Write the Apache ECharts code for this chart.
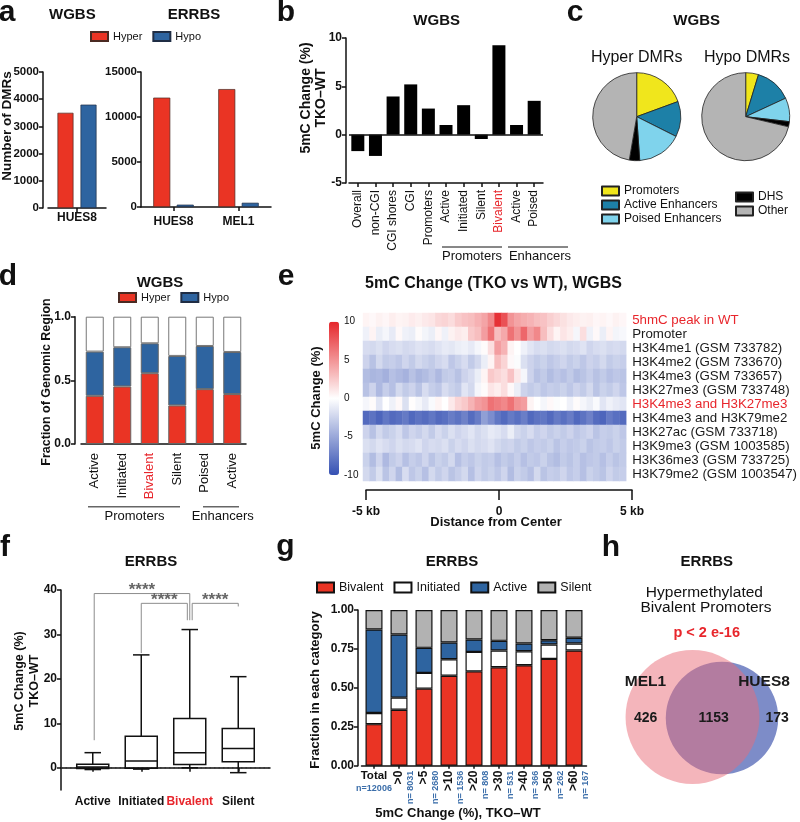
<!DOCTYPE html>
<html><head><meta charset="utf-8">
<script src="https://cdn.jsdelivr.net/npm/echarts@6/dist/echarts.min.js"></script>
<style>html,body{margin:0;padding:0;background:#fff}#c{width:800px;height:822px}</style>
</head><body><div id="c"></div>
<script>
// ---------------- DATA ----------------
// Panel a
const aWgbsCats = ['HUES8'];
const aWgbsHyper = [3500];
const aWgbsHypo = [3800];
const aErrbsCats = ['HUES8', 'MEL1'];
const aErrbsHyper = [12150, 13100];
const aErrbsHypo = [260, 470];
// Panel b
const bCats = ['Overall','non-CGI','CGI shores','CGI','Promoters','Active','Initiated','Silent','Bivalent','Active','Poised'];
const bValues = [-1.7,-2.2,3.95,5.2,2.7,1.0,3.05,-0.45,9.25,1.0,3.5];
// Panel c
const cNames = ['Promoters','Active Enhancers','Poised Enhancers','DHS','Other'];
const cHyper = [19.4,13.0,16.5,3.8,47.3];
const cHypo = [4.7,13.4,8.7,1.9,71.3];
// Panel d
const dCats = ['Active','Initiated','Bivalent','Silent','Poised','Active'];
const dHyper = [0.379,0.452,0.556,0.303,0.431,0.392];
const dHypo  = [0.347,0.308,0.235,0.389,0.339,0.331];
const dRest  = [0.274,0.240,0.209,0.308,0.230,0.277];
// Panel e
const heatRows = ['5hmC peak in WT','Promoter','H3K4me1 (GSM 733782)','H3K4me2 (GSM 733670)','H3K4me3 (GSM 733657)','H3K27me3 (GSM 733748)','H3K4me3 and H3K27me3','H3K4me3 and H3K79me2','H3K27ac (GSM 733718)','H3K9me3 (GSM 1003585)','H3K36me3 (GSM 733725)','H3K79me2 (GSM 1003547)'];
const heatRedRows = ['5hmC peak in WT','H3K4me3 and H3K27me3'];
const heatValues = [
 [0.5,0.3,0.6,0.4,0.8,0.5,0.6,0.9,0.7,1.0, 1.2,1.8,2.0,1.6,2.4,2.8,3.0,3.6,4.2,5.5, 9.5,8.0,5.0,4.2,3.8,3.5,3.0,2.8,2.2,1.8, 1.4,1.0,0.8,0.6,0.7,0.4,0.5,0.3,0.6,0.4],
 [-0.8,0.5,-1.0,-0.5,-1.2,0.3,-0.8,-1.0,0.2,-0.6, -1.0,0.4,-0.8,0.6,1.0,0.8,2.5,3.0,4.5,6.5, 3.0,4.0,6.5,5.0,7.0,4.5,5.5,3.0,1.5,0.5, 1.2,0.8,-0.5,1.5,-0.8,0.3,-1.0,0.5,-0.6,-0.4],
 [-2.0,-2.2,-1.8,-2.4,-2.0,-1.8,-2.2,-2.0,-1.6,-1.8, -2.0,-1.6,-1.2,-1.4,-1.0,-0.8,-1.2,-0.5,0.2,1.5, 4.5,3.5,0.5,0.0,-0.8,-1.5,-2.0,-1.8,-2.2,-2.0, -1.8,-2.2,-2.0,-1.6,-2.4,-2.0,-1.8,-2.2,-2.0,-2.2],
 [-2.5,-3.5,-2.2,-3.0,-2.8,-3.2,-2.4,-3.0,-2.2,-2.6, -3.0,-2.4,-2.0,-3.2,-2.6,-2.0,-3.0,-2.2,-1.0,0.5, 3.0,2.0,0.3,-0.2,-1.8,-2.5,-3.0,-2.6,-3.2,-2.8, -2.4,-3.0,-2.6,-3.2,-2.5,-2.8,-2.2,-3.0,-2.6,-2.8],
 [-3.8,-4.2,-4.0,-4.5,-3.6,-4.0,-4.4,-3.5,-4.2,-3.8, -3.2,-4.0,-3.0,-2.8,-3.5,-2.5,-2.0,-1.0,0.5,2.5, 2.0,1.5,2.8,1.0,-0.5,-2.5,-3.5,-3.0,-3.8,-3.2, -3.6,-3.0,-3.8,-3.4,-2.8,-3.5,-3.0,-3.6,-3.2,-3.4],
 [-3.5,-2.5,-4.0,-2.8,-3.6,-2.2,-3.0,-2.5,-3.4,-2.0, -2.8,-3.2,-2.0,-2.6,-3.0,-1.5,-2.2,-0.5,0.2,1.2, 0.8,1.5,0.3,-1.0,-2.5,-3.0,-2.6,-3.2,-2.8,-3.0, -2.6,-3.2,-2.5,-3.0,-2.2,-3.4,-2.6,-3.0,-2.4,-3.2],
 [-0.5,0.2,-1.5,0.0,-0.8,0.3,-1.8,0.1,-0.5,-1.2, -0.3,0.5,0.0,1.0,2.0,2.5,3.5,4.5,5.0,6.5, 6.0,5.5,6.5,5.0,4.5,0.5,0.0,-0.5,0.3,-0.2, 0.0,-0.8,0.2,-0.5,-1.0,-0.3,-1.5,-0.8,-1.2,-1.5],
 [-8.5,-8.0,-8.8,-7.8,-8.5,-8.2,-7.6,-8.6,-8.0,-8.4, -7.8,-8.5,-8.2,-7.5,-8.0,-7.2,-8.4,-7.5,-5.5,-6.5, -7.8,-8.5,-7.6,-8.2,-7.4,-8.6,-8.0,-7.8,-8.5,-7.6, -8.2,-7.5,-8.6,-8.0,-7.2,-8.4,-8.8,-7.6,-8.2,-8.5],
 [-2.5,-3.5,-2.2,-3.0,-2.6,-2.0,-3.2,-2.4,-2.8,-2.2, -3.0,-2.0,-2.6,-1.8,-2.4,-2.0,-1.5,-2.2,-1.8,-1.2, -1.5,-2.0,-1.0,-2.2,-2.6,-2.0,-2.8,-2.4,-3.0,-2.6, -3.0,-2.5,-3.2,-2.8,-2.4,-3.4,-2.8,-3.0,-2.6,-3.2],
 [-1.8,-2.2,-1.6,-2.0,-2.4,-1.8,-2.2,-2.0,-1.6,-2.4, -2.0,-2.2,-1.8,-2.6,-2.0,-2.4,-1.8,-2.2,-2.0,-1.6, -2.2,-2.6,-2.4,-3.0,-2.6,-3.2,-2.8,-3.0,-2.6,-3.4, -2.8,-3.2,-3.0,-2.6,-3.4,-3.0,-2.8,-3.2,-2.6,-3.0],
 [-2.6,-3.8,-2.4,-4.0,-3.0,-2.5,-3.6,-2.8,-3.2,-2.4, -3.4,-2.6,-3.0,-2.2,-3.6,-2.8,-3.2,-2.6,-3.0,-2.8, -3.6,-3.0,-3.4,-2.8,-3.6,-3.0,-3.2,-2.6,-3.4,-3.8, -3.0,-3.4,-2.8,-3.6,-3.2,-3.0,-3.6,-2.8,-3.4,-3.0],
 [-2.2,-3.0,-1.8,-3.4,-2.4,-3.8,-2.0,-3.2,-2.6,-3.6, -2.2,-3.0,-2.4,-3.4,-2.8,-2.2,-3.6,-2.4,-3.0,-2.6, -3.2,-2.4,-3.8,-2.6,-3.0,-3.6,-2.2,-3.4,-2.8,-3.0, -2.4,-3.2,-2.8,-3.6,-2.6,-3.0,-3.4,-2.4,-3.0,-2.8]
];
const heatTicks = [-5, 0, 5];
// Panel f  [min, Q1, median, Q3, max]
const fCats = ['Active','Initiated','Bivalent','Silent'];
const fBox = [[-0.4,-0.15,0.2,0.8,3.4],[-0.3,-0.1,1.5,7.1,25.4],[0.0,0.75,3.4,11.1,31.1],[-1.1,1.35,4.35,8.85,20.5]];
const fTicks = [0,10,20,30,40];
// significance brackets: [fromCat, toCat, barLevel, leftDrop, rightDrop, leftShift, rightShift]
const fSig = [[0,2,39.2,6.2,33.2,0.03,0],[1,2,37.0,25.8,33.2,0,-0.05],[2,3,37.0,33.2,36.3,0.05,0]];
// Panel g
const gCats = ['Total','>0','>5','>10','>20','>30','>40','>50','>60'];
const gN = ['n=12006','n= 8031','n= 2680','n= 1536','n= 808','n= 531','n= 366','n= 262','n= 167'];
const gBivalent  = [0.267,0.359,0.495,0.578,0.606,0.632,0.645,0.686,0.740];
const gInitiated = [0.071,0.078,0.101,0.106,0.125,0.108,0.090,0.092,0.045];
const gActive    = [0.537,0.406,0.161,0.107,0.080,0.062,0.050,0.028,0.037];
const gSilent    = [0.125,0.157,0.243,0.209,0.189,0.198,0.215,0.194,0.178];
// Panel h
const hSets = ['MEL1','HUES8'];
const hCounts = [426, 1153, 173]; // MEL1 only, both, HUES8 only

// ---------------- STYLE ----------------
const FONT = '"Liberation Sans", Arial, Helvetica, sans-serif';
const RED = '#ea3424', BLUE = '#2e64a0', LRED = '#e8262c', NBLUE = '#3b6eaa';
const AXL = {show:true, lineStyle:{color:'#111', width:1.5}};
const TICK = {show:true, length:4, alignWithLabel:true, lineStyle:{color:'#111', width:1.5}};
const VTICK = {show:true, length:4, lineStyle:{color:'#111', width:1.5}};
const bold = (s) => ({fontFamily:FONT, fontWeight:'bold', fontSize:s, color:'#111'});
const reg = (s) => ({fontFamily:FONT, fontWeight:'normal', fontSize:s, color:'#111'});
const redCat = (arr) => arr.map(v => v === 'Bivalent' ? {value:v, textStyle:{color:LRED}} : v);
const plain = (v) => String(v);

function txt(x, y, text, size, isBold, extra) {
  extra = extra || {};
  return {type:'text', x:x, y:y, silent:true, rotation: extra.rot || 0, z:100,
    style:{text:text, fill: extra.color || '#111', fontFamily:FONT, fontSize:size,
      fontWeight: isBold ? 'bold' : 'normal', align:'center', verticalAlign:'middle',
      textAlign:'center', textVerticalAlign:'middle', lineHeight: extra.lh || undefined}};
}
function hline(x1, x2, y, color, w) {
  return {type:'line', silent:true, z:100, shape:{x1:x1, y1:y, x2:x2, y2:y}, style:{stroke:color, lineWidth:w}};
}

const chart = echarts.init(document.getElementById('c'), null, {renderer:'canvas', width:800, height:822});

const heatData = [];
heatValues.forEach((row, r) => row.forEach((v, c) => heatData.push([c, r, v])));
const heatCols = heatValues[0].map((_, i) => String(i));

function renderBox(params, api) {
  const i = api.value(0);
  const lo = api.coord([i, api.value(1)]), q1 = api.coord([i, api.value(2)]);
  const md = api.coord([i, api.value(3)]), q3 = api.coord([i, api.value(4)]);
  const hi = api.coord([i, api.value(5)]);
  const cw = api.size([1, 0])[0];
  const bw = cw * 0.66, capw = cw * 0.34, x = md[0];
  const st = {stroke:'#111', lineWidth:1.5};
  return {type:'group', children:[
    {type:'line', shape:{x1:x, y1:hi[1], x2:x, y2:q3[1]}, style:st},
    {type:'line', shape:{x1:x, y1:q1[1], x2:x, y2:lo[1]}, style:st},
    {type:'line', shape:{x1:x-capw/2, y1:hi[1], x2:x+capw/2, y2:hi[1]}, style:st},
    {type:'line', shape:{x1:x-capw/2, y1:lo[1], x2:x+capw/2, y2:lo[1]}, style:st},
    {type:'rect', shape:{x:x-bw/2, y:q3[1], width:bw, height:q1[1]-q3[1]}, style:{stroke:'#111', lineWidth:1.5, fill:'rgba(255,255,255,0)'}},
    {type:'line', shape:{x1:x-bw/2, y1:md[1], x2:x+bw/2, y2:md[1]}, style:st}
  ]};
}
function renderSig(params, api) {
  const a = api.value(0), b = api.value(1);
  const cw = api.size([1, 0])[0];
  const pL = api.coord([a, api.value(2)]), pR = api.coord([b, api.value(2)]);
  const xl = pL[0] + api.value(5) * cw, xr = pR[0] + api.value(6) * cw;
  const yl = api.coord([a, api.value(3)])[1], yr = api.coord([b, api.value(4)])[1];
  return {type:'group', children:[
    {type:'polyline', shape:{points:[[xl, yl],[xl, pL[1]],[xr, pL[1]],[xr, yr]]}, style:{stroke:'#8c8c8c', lineWidth:1, fill:null}},
    {type:'text', x:(xl+xr)/2, y:pL[1]-3, style:{text:'****', fill:'#666', fontFamily:FONT, fontSize:17, fontWeight:'bold', align:'center', verticalAlign:'middle'}}
  ]};
}
// Venn layout (grid units = px), radius proportional to set size
const vennLayout = {mel:[92.5, 87], hues:[122, 88], perCount:0.0424};
function renderVenn(params, api) {
  const melN = hCounts[0] + hCounts[1], huesN = hCounts[1] + hCounts[2];
  const m = api.coord(vennLayout.mel), h = api.coord(vennLayout.hues);
  const unit = api.size([1, 0])[0];
  const rm = melN * vennLayout.perCount * unit, rh = huesN * vennLayout.perCount * unit;
  const nb = (s) => ({fill:'#1a1a1a', fontFamily:FONT, fontWeight:'bold', fontSize:s, align:'center', verticalAlign:'middle'});
  return {type:'group', children:[
    {type:'circle', shape:{cx:h[0], cy:h[1], r:rh}, style:{fill:'rgb(125,140,200)'}},
    {type:'circle', shape:{cx:m[0], cy:m[1], r:rm}, style:{fill:'rgba(233,108,119,0.5)'}},
    {type:'text', x:m[0]-47, y:m[1]-35, style:Object.assign({text:hSets[0]}, nb(15.5))},
    {type:'text', x:h[0]+42, y:h[1]-36, style:Object.assign({text:hSets[1]}, nb(15.5))},
    {type:'text', x:((m[0]-rm)+(h[0]-rh))/2, y:m[1]+1, style:Object.assign({text:String(hCounts[0])}, nb(14))},
    {type:'text', x:((h[0]-rh)+(m[0]+rm))/2+1, y:m[1]+1, style:Object.assign({text:String(hCounts[1])}, nb(14))},
    {type:'text', x:h[0]+rh-1, y:m[1]+1, style:Object.assign({text:String(hCounts[2])}, nb(14))}
  ]};
}

const legendBase = {icon:'rect', padding:0, selectedMode:false, itemWidth:17, itemHeight:9, itemGap:10};

const option = {
  animation:false,
  textStyle:{fontFamily:FONT},
  grid:[
    {left:48, top:72, width:58, height:136},
    {left:141, top:72, width:130, height:135},
    {left:349, top:38, width:194, height:145},
    {left:81, top:316.7, width:165, height:127.3},
    {left:363, top:313, width:266, height:168},
    {left:339, top:321.7, width:1, height:153.3},
    {left:366, top:489, width:266, height:1},
    {left:68.5, top:590, width:194, height:200},
    {left:61, top:590, width:209, height:200},
    {left:361.5, top:610, width:225, height:155.7},
    {left:600, top:630, width:200, height:170}
  ],
  xAxis:[
    {gridIndex:0, type:'category', data:aWgbsCats, axisLine:AXL, axisTick:TICK, axisLabel:Object.assign({margin:4}, bold(12))},
    {gridIndex:1, type:'category', data:aErrbsCats, axisLine:AXL, axisTick:TICK, axisLabel:Object.assign({margin:9}, bold(12))},
    {gridIndex:2, type:'category', data:redCat(bCats), axisLine:{show:true, onZero:false, lineStyle:{color:'#111', width:1.5}}, axisTick:TICK, axisLabel:Object.assign({margin:7, rotate:90, interval:0}, reg(12))},
    {gridIndex:3, type:'category', data:redCat(dCats), axisLine:AXL, axisTick:{show:false}, axisLabel:Object.assign({margin:9, rotate:90, interval:0}, reg(13))},
    {gridIndex:4, type:'category', data:heatCols, show:false},
    {gridIndex:5, type:'value', show:false},
    {gridIndex:6, type:'value', min:-5, max:5, interval:5, axisLine:AXL, axisTick:{show:true, length:10, lineStyle:{color:'#111', width:1.5}}, splitLine:{show:false}, axisLabel:Object.assign({margin:16, formatter:(v)=> v===0 ? '0' : v+' kb'}, bold(12))},
    {gridIndex:7, type:'category', data:redCat(fCats), axisLine:{show:false}, axisTick:TICK, axisLabel:Object.assign({margin:6, interval:0}, bold(12))},
    {gridIndex:8, type:'value', min:0, max:1, axisLine:AXL, axisTick:{show:false}, axisLabel:{show:false}, splitLine:{show:false}},
    {gridIndex:9, type:'category', data:gCats, axisLine:AXL, axisTick:Object.assign({}, TICK, {length:3}),
      axisLabel:{margin:4, interval:0, formatter:(v, i)=> i===0 ? '{c|'+v+'}\n{n|'+gN[0]+'}' : '',
        rich:{c:{fontFamily:FONT, fontWeight:'bold', fontSize:11.5, color:'#111', lineHeight:13}, n:{fontFamily:FONT, fontWeight:'bold', fontSize:9, color:NBLUE, lineHeight:11}}}},
    {gridIndex:9, type:'category', data:gCats, position:'bottom', axisLine:{show:false}, axisTick:{show:false},
      axisLabel:{margin:5, rotate:90, interval:0, formatter:(v, i)=> i===0 ? '' : '{e| }\n{c|'+v+'}\n{n|'+gN[i]+'}',
        rich:{e:{fontSize:9, lineHeight:12}, c:{fontFamily:FONT, fontWeight:'bold', fontSize:12, color:'#111', lineHeight:12}, n:{fontFamily:FONT, fontWeight:'bold', fontSize:9, color:NBLUE, lineHeight:12}}}},
    {gridIndex:10, type:'value', min:0, max:200, show:false}
  ],
  yAxis:[
    {gridIndex:0, type:'value', min:0, max:5000, interval:1000, offset:5, axisLine:AXL, axisTick:VTICK, splitLine:{show:false}, axisLabel:Object.assign({margin:4, formatter:plain}, bold(11.5))},
    {gridIndex:1, type:'value', min:0, max:15000, interval:5000, axisLine:AXL, axisTick:VTICK, splitLine:{show:false}, axisLabel:Object.assign({margin:4, formatter:plain}, bold(11.5))},
    {gridIndex:2, type:'value', min:-5, max:10, interval:5, offset:3, axisLine:AXL, axisTick:VTICK, splitLine:{show:false}, axisLabel:Object.assign({margin:4}, bold(12))},
    {gridIndex:3, type:'value', min:0, max:1, interval:0.5, offset:6, axisLine:AXL, axisTick:VTICK, splitLine:{show:false}, axisLabel:Object.assign({margin:4, formatter:(v)=>v.toFixed(1)}, bold(12))},
    {gridIndex:4, type:'category', data:heatRows.map(n => heatRedRows.includes(n) ? {value:n, textStyle:{color:LRED}} : n), inverse:true, position:'right', axisLine:{show:false}, axisTick:{show:false}, axisLabel:Object.assign({margin:6, interval:0}, reg(13.3), {color:'#1a1a1a'})},
    {gridIndex:5, type:'value', min:-10, max:10, interval:5, axisLine:{show:false}, axisTick:{show:false}, splitLine:{show:false}, axisLabel:Object.assign({inside:true, margin:5}, reg(10))},
    {gridIndex:6, type:'value', show:false},
    {gridIndex:7, type:'value', min:-5, max:40, offset:7.5, axisLine:AXL, axisTick:Object.assign({customValues:fTicks}, VTICK), splitLine:{show:false}, axisLabel:Object.assign({margin:4, customValues:fTicks}, bold(12))},
    {gridIndex:8, type:'value', min:-5, max:40, show:false},
    {gridIndex:9, type:'value', min:0, max:1, interval:0.25, offset:3.5, axisLine:AXL, axisTick:VTICK, splitLine:{show:false}, axisLabel:Object.assign({margin:4, formatter:(v)=>v.toFixed(2)}, bold(12))},
    {gridIndex:10, type:'value', min:0, max:170, inverse:true, show:false}
  ],
  legend:[
    Object.assign({}, legendBase, {data:['Hyper','Hypo'], left:90, top:31, textStyle:reg(11)}),
    Object.assign({}, legendBase, {data:['Hyper','Hypo'], left:118, top:292, textStyle:reg(11)}),
    Object.assign({}, legendBase, {data:cNames.slice(0,3), orient:'vertical', left:601, top:185, itemGap:2, textStyle:reg(12)}),
    Object.assign({}, legendBase, {data:cNames.slice(3), orient:'vertical', left:735, top:191, itemGap:2, textStyle:reg(12)}),
    Object.assign({}, legendBase, {data:['Bivalent','Initiated','Active','Silent'], left:316, top:581, itemWidth:17, itemHeight:10, itemGap:10, textStyle:reg(12.5)})
  ],
  visualMap:{type:'continuous', min:-10, max:10, seriesIndex:10, calculable:false, show:true, padding:0,
    left:329, top:321.7, itemWidth:10, itemHeight:153.3, text:null, showLabel:false,
    inRange:{color:['#3550b3','#ffffff','#e5262b']}},
  series:[
    {name:'Hyper', type:'bar', xAxisIndex:0, yAxisIndex:0, data:aWgbsHyper, barWidth:16, barGap:'44%', itemStyle:{color:RED, borderColor:'#4a2a22', borderWidth:0.7}},
    {name:'Hypo', type:'bar', xAxisIndex:0, yAxisIndex:0, data:aWgbsHypo, barWidth:16, barGap:'44%', itemStyle:{color:BLUE, borderColor:'#1f2d44', borderWidth:0.7}},
    {name:'Hyper', type:'bar', xAxisIndex:1, yAxisIndex:1, data:aErrbsHyper, barWidth:17, barGap:'38%', itemStyle:{color:RED, borderColor:'#4a2a22', borderWidth:0.7}},
    {name:'Hypo', type:'bar', xAxisIndex:1, yAxisIndex:1, data:aErrbsHypo, barWidth:17, barGap:'38%', itemStyle:{color:BLUE, borderColor:'#1f2d44', borderWidth:0.7}},
    {name:'b', type:'bar', xAxisIndex:2, yAxisIndex:2, data:bValues, barWidth:13, itemStyle:{color:'#000'},
      markLine:{silent:true, symbol:['none','none'], label:{show:false}, lineStyle:{color:'#111', width:1.5, type:'solid'}, data:[{yAxis:0}]}},
    {name:'hyperPie', type:'pie', center:[636.7,116.7], radius:44, startAngle:90, clockwise:true, label:{show:false}, labelLine:{show:false}, silent:true,
      data:cNames.map((n,i)=>({name:n, value:cHyper[i]})), itemStyle:{borderColor:'#222', borderWidth:0.8}},
    {name:'hypoPie', type:'pie', center:[745.7,116.7], radius:44, startAngle:90, clockwise:true, label:{show:false}, labelLine:{show:false}, silent:true,
      data:cNames.map((n,i)=>({name:n, value:cHypo[i]})), itemStyle:{borderColor:'#222', borderWidth:0.8}},
    {name:'Hyper', type:'bar', stack:'d', xAxisIndex:3, yAxisIndex:3, data:dHyper, barWidth:18, itemStyle:{color:RED, borderColor:'#666', borderWidth:1}},
    {name:'Hypo', type:'bar', stack:'d', xAxisIndex:3, yAxisIndex:3, data:dHypo, barWidth:18, itemStyle:{color:BLUE, borderColor:'#666', borderWidth:1}},
    {name:'rest', type:'bar', stack:'d', xAxisIndex:3, yAxisIndex:3, data:dRest, barWidth:18, itemStyle:{color:'#fff', borderColor:'#777', borderWidth:1}},
    {name:'heat', type:'heatmap', xAxisIndex:4, yAxisIndex:4, data:heatData, itemStyle:{borderWidth:0}, emphasis:{disabled:true}},
    {name:'box', type:'custom', xAxisIndex:7, yAxisIndex:7, renderItem:renderBox, encode:{x:0, y:[1,2,3,4,5]}, data:fBox.map((b,i)=>[i].concat(b)), z:5},
    {name:'sig', type:'custom', xAxisIndex:7, yAxisIndex:7, renderItem:renderSig, encode:{x:[0,1], y:[2,3,4]}, data:fSig, z:4},
    {name:'zero', type:'line', xAxisIndex:8, yAxisIndex:8, data:[[0,0],[1,0]], symbol:'none', lineStyle:{color:'#333', width:1.2, type:[1.5,3]}, silent:true, z:1},
    {name:'Bivalent', type:'bar', stack:'g', xAxisIndex:9, yAxisIndex:9, data:gBivalent, barWidth:17, itemStyle:{color:RED, borderColor:'#111', borderWidth:1.2}},
    {name:'Initiated', type:'bar', stack:'g', xAxisIndex:9, yAxisIndex:9, data:gInitiated, barWidth:17, itemStyle:{color:'#fff', borderColor:'#111', borderWidth:1.2}},
    {name:'Active', type:'bar', stack:'g', xAxisIndex:9, yAxisIndex:9, data:gActive, barWidth:17, itemStyle:{color:BLUE, borderColor:'#111', borderWidth:1.2}},
    {name:'Silent', type:'bar', stack:'g', xAxisIndex:9, yAxisIndex:9, data:gSilent, barWidth:17, itemStyle:{color:'#b2b2b2', borderColor:'#111', borderWidth:1.2}},
    {name:'venn', type:'custom', xAxisIndex:11, yAxisIndex:10, renderItem:renderVenn, data:[[0,0]], silent:true}
  ],
  color:['#f0e61c','#1d80a7','#7fd3ec','#000000','#b4b4b4'],
  graphic:[
    // panel letters
    txt(7,12.6,'a',30,true), txt(286,12.6,'b',30,true), txt(575,13,'c',30,true), txt(8,276.6,'d',30,true),
    txt(286,277,'e',30,true), txt(5,547.6,'f',30,true), txt(285.5,547,'g',30,true), txt(611,547.6,'h',30,true),
    // titles
    txt(72.3,15,'WGBS',15,true), txt(194,15,'ERRBS',15,true), txt(436.7,21,'WGBS',15,true), txt(696.7,21,'WGBS',15,true),
    txt(636.7,58,'Hyper DMRs',16,false), txt(747,58,'Hypo DMRs',16,false),
    txt(160,283,'WGBS',15,true), txt(493.5,284,'5mC Change (TKO vs WT), WGBS',16,true),
    txt(151,562,'ERRBS',15,true), txt(452,562,'ERRBS',15,true), txt(706.8,562,'ERRBS',15,true),
    txt(704.4,593,'Hypermethylated',15.5,false), txt(706,608,'Bivalent Promoters',15.5,false),
    txt(706.7,633.3,'p < 2 e-16',14.5,true,{color:LRED}),
    // axis titles
    txt(7,126,'Number of DMRs',13.5,true,{rot:Math.PI/2}),
    txt(314,98,'5mC Change (%)\nTKO\u2013WT',14,true,{rot:Math.PI/2, lh:15}),
    txt(47,382,'Fraction of Genomic Region',12.5,true,{rot:Math.PI/2}),
    txt(316.8,398,'5mC Change (%)',13,true,{rot:Math.PI/2}),
    txt(27.5,681,'5mC Change (%)\nTKO\u2013WT',12.5,true,{rot:Math.PI/2, lh:15}),
    txt(315,690,'Fraction in each category',13,true,{rot:Math.PI/2}),
    txt(496,522,'Distance from Center',13,true),
    txt(458,813,'5mC Change (%), TKO\u2013WT',13,true),
    // group labels b
    hline(442,502,247,'#111',1), txt(472,256.5,'Promoters',13,false),
    hline(508,568,247,'#111',1), txt(540,256.5,'Enhancers',13,false),
    // group labels d
    hline(88,180,506.7,'#666',1.5), txt(134.5,516.5,'Promoters',13,false),
    hline(203,239,506.7,'#666',1.5), txt(222.7,516.5,'Enhancers',13,false)
  ]
};
chart.setOption(option);
</script></body></html>
